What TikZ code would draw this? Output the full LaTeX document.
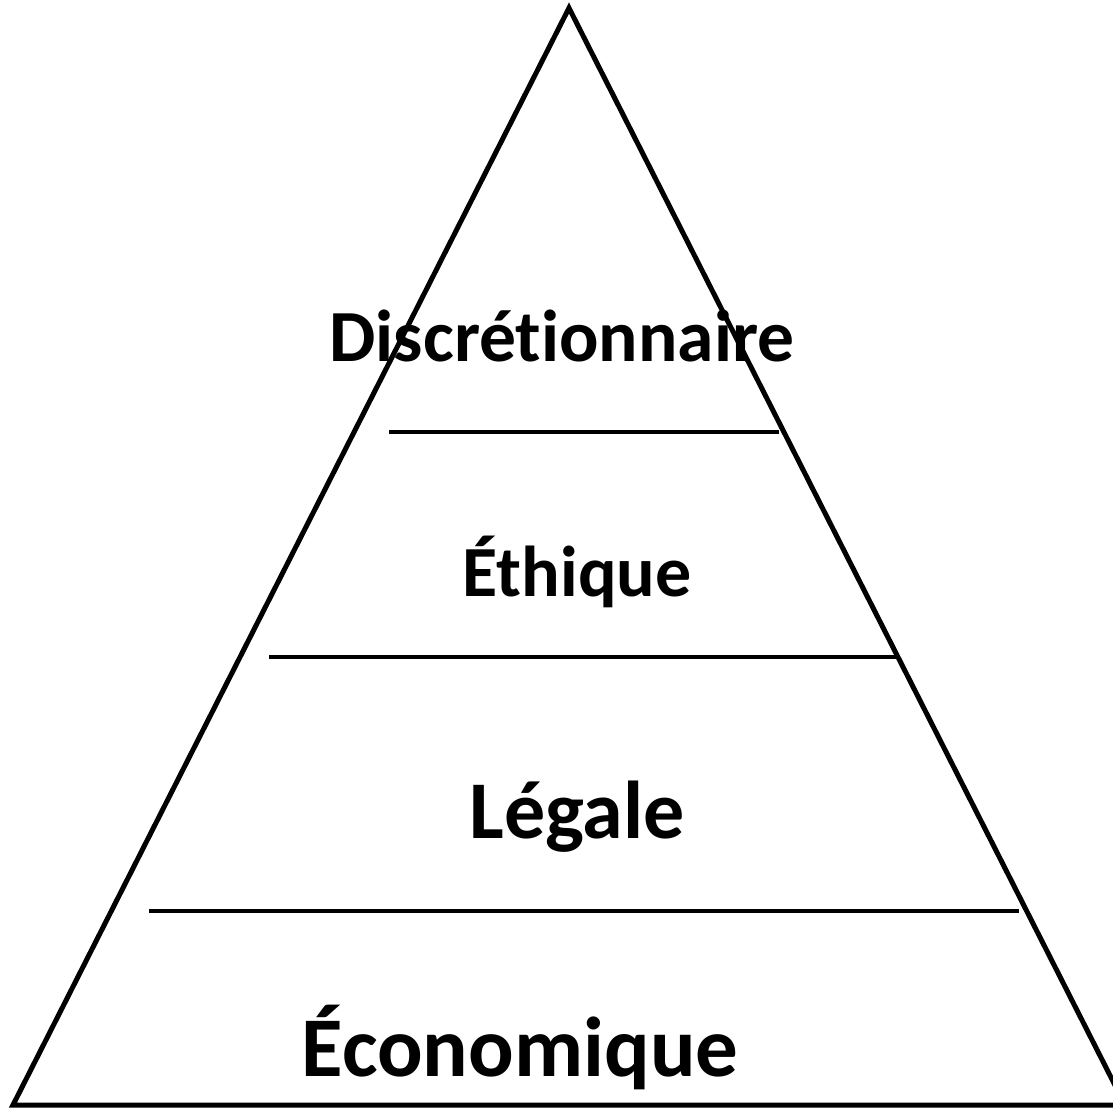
\documentclass[tikz,border=0pt]{standalone}
\usepackage{fontspec}
\setmainfont{Carlito}[RawFeature={-liga}]
\begin{document}
\begin{tikzpicture}[x=1pt,y=-1pt,
  tri/.style={line width=5pt,line join=miter},
  sep/.style={line width=3.5pt},
  lbl/.style={inner sep=0pt,anchor=base,font=\bfseries}]
\useasboundingbox (0,0) rectangle (1113,1108);
\clip (0,0) rectangle (1113,1108);
\coordinate (apex) at (569,8);
\coordinate (bl) at (13,1105);
\coordinate (br) at (1125,1105);
\draw[tri] (apex) -- (bl) -- (br) -- cycle;
\coordinate (s1l) at (389,432);
\coordinate (s1r) at (779,432);
\coordinate (s2l) at (269,657);
\coordinate (s2r) at (896,657);
\coordinate (s3l) at (149,911);
\coordinate (s3r) at (1019,911);
\draw[sep] (s1l) -- (s1r);
\draw[sep] (s2l) -- (s2r);
\draw[sep] (s3l) -- (s3r);
\node[lbl,font=\fontsize{73.5}{80}\selectfont\bfseries] (disc) at (562,361) {Discrétionnaire};
\node[lbl,font=\fontsize{72}{80}\selectfont\bfseries] (eth) at (577,596) {Éthique};
\node[lbl,font=\fontsize{82}{90}\selectfont\bfseries] (leg) at (577,838) {Légale};
\node[lbl,font=\fontsize{85}{95}\selectfont\bfseries] (eco) at (520,1076) {Économique};
\end{tikzpicture}
\end{document}
